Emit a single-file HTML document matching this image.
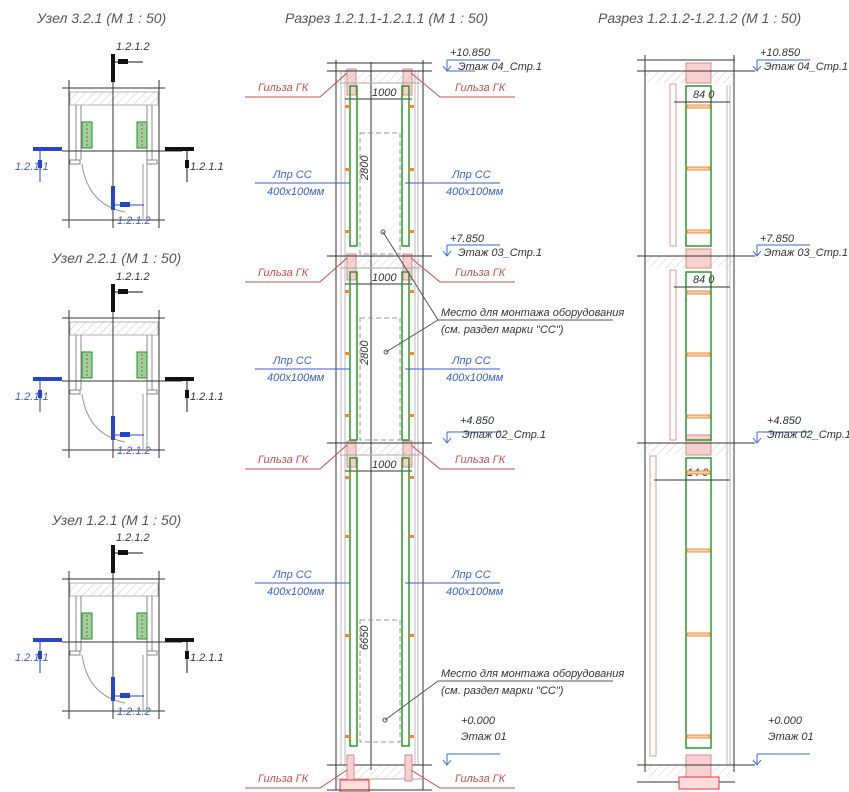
<!DOCTYPE html>
<html><head><meta charset="utf-8"><style>
html,body{margin:0;padding:0;background:#fff;}
svg{display:block;font-family:"Liberation Sans","DejaVu Sans",sans-serif;}
.t{font-style:italic;fill:#555;}
.r{fill:#c0504d;font-style:italic;font-size:11px;}
.b{fill:#3a5fc8;font-style:italic;font-size:11px;}
.k{fill:#333;font-style:italic;font-size:11px;}
</style></head><body>
<svg width="849" height="792" viewBox="0 0 849 792" xmlns="http://www.w3.org/2000/svg">
<defs>
<pattern id="h" width="6" height="6" patternUnits="userSpaceOnUse" patternTransform="rotate(45)"><line x1="0" y1="0" x2="0" y2="6" stroke="#ccc" stroke-width="1"/></pattern>
<g id="plan">
  <line x1="62" y1="88" x2="165" y2="88" stroke="#333"/>
  <line x1="69" y1="80" x2="69" y2="228" stroke="#333"/>
  <line x1="159" y1="80" x2="159" y2="228" stroke="#333"/>
  <rect x="70" y="92" width="88" height="13" fill="url(#h)" stroke="#999" stroke-width="0.7"/>
  <line x1="76" y1="105" x2="76" y2="160" stroke="#888"/><line x1="81" y1="105" x2="81" y2="160" stroke="#888"/>
  <line x1="147" y1="105" x2="147" y2="160" stroke="#888"/><line x1="152" y1="105" x2="152" y2="160" stroke="#888"/>
  <rect x="82" y="122" width="10" height="26" fill="#9bd29b" stroke="#2a8a2a"/>
  <rect x="137" y="122" width="10" height="26" fill="#9bd29b" stroke="#2a8a2a"/>
  <line x1="87" y1="124" x2="87" y2="146" stroke="#c44" stroke-dasharray="2 2"/>
  <line x1="142" y1="124" x2="142" y2="146" stroke="#c44" stroke-dasharray="2 2"/>
  <line x1="62" y1="151" x2="182" y2="151" stroke="#333"/>
  <line x1="62" y1="220" x2="165" y2="220" stroke="#333"/>
  <line x1="113" y1="80" x2="113" y2="228" stroke="#333"/>
  <rect x="70" y="160" width="10" height="4" fill="none" stroke="#888"/>
  <rect x="147" y="160" width="10" height="4" fill="none" stroke="#888"/>
  <path d="M82 164 Q88 205 125 212" fill="none" stroke="#999"/>
  <line x1="143" y1="164" x2="143" y2="220" stroke="#999"/><line x1="147" y1="164" x2="147" y2="220" stroke="#999"/>
  <rect x="111" y="54" width="4" height="28" fill="#111"/>
  <line x1="113" y1="62" x2="143" y2="62" stroke="#111"/><rect x="118" y="59" width="10" height="5" fill="#111"/>
  <text x="116" y="50" class="k" font-size="9">1.2.1.2</text>
  <rect x="33" y="147" width="29" height="4" fill="#2745c8"/>
  <line x1="40" y1="151" x2="40" y2="182" stroke="#2745c8"/><rect x="38" y="160" width="4" height="8" fill="#2745c8"/>
  <text x="15" y="170" class="b" font-size="9">1.2.1.1</text>
  <rect x="165" y="147" width="29" height="4" fill="#111"/>
  <line x1="187" y1="151" x2="187" y2="182" stroke="#111"/><rect x="185" y="160" width="4" height="8" fill="#111"/>
  <text x="190" y="170" class="k" font-size="9">1.2.1.1</text>
  <rect x="111" y="186" width="4" height="24" fill="#2745c8"/>
  <line x1="113" y1="205" x2="144" y2="205" stroke="#2745c8"/><rect x="120" y="202" width="10" height="5" fill="#2745c8"/>
  <text x="117" y="224" class="b" font-size="9">1.2.1.2</text>
</g>
<g id="fl">
  <rect x="347" y="-2" width="9" height="26" fill="#f7d0d0" stroke="#d88"/>
  <rect x="403" y="-2" width="9" height="26" fill="#f7d0d0" stroke="#d88"/>
  <rect x="340" y="0" width="80" height="12" fill="url(#h)"/>
  <line x1="340" y1="12" x2="420" y2="12" stroke="#aaa"/>
  <line x1="327" y1="0" x2="432" y2="0" stroke="#333"/>
  <line x1="345" y1="28" x2="412" y2="28" stroke="#333"/>
  <text x="372" y="25" class="k" font-size="9">1000</text>
</g>
<g id="lab">
  <path d="M245 26 L320 26 L347 2" fill="none" stroke="#c0504d"/>
  <text x="258" y="20" class="r">Гильза ГК</text>
  <path d="M515 26 L440 26 L411 2" fill="none" stroke="#c0504d"/>
  <text x="455" y="20" class="r">Гильза ГК</text>
</g>
<g id="lpr">
  <line x1="255" y1="0" x2="350" y2="0" stroke="#3a5fc8"/>
  <text x="273" y="-5" class="b">Лпр СС</text><text x="267" y="12" class="b" font-size="9">400x100мм</text>
  <line x1="405" y1="0" x2="500" y2="0" stroke="#3a5fc8"/>
  <text x="452" y="-5" class="b">Лпр СС</text><text x="446" y="12" class="b" font-size="9">400x100мм</text>
</g>
</defs>

<text x="37" y="23" class="t" font-size="14">Узел 3.2.1 (М 1 : 50)</text>
<text x="52" y="263" class="t" font-size="14">Узел 2.2.1 (М 1 : 50)</text>
<text x="52" y="525" class="t" font-size="14">Узел 1.2.1 (М 1 : 50)</text>
<text x="285" y="23" class="t" font-size="14">Разрез 1.2.1.1-1.2.1.1 (М 1 : 50)</text>
<text x="598" y="23" class="t" font-size="14">Разрез 1.2.1.2-1.2.1.2 (М 1 : 50)</text>

<use href="#plan"/>
<use href="#plan" transform="translate(0,230)"/>
<use href="#plan" transform="translate(0,491)"/>

<!-- middle section -->
<g stroke-width="1">
<line x1="336" y1="60" x2="336" y2="790" stroke="#333"/>
<line x1="423" y1="60" x2="423" y2="790" stroke="#333"/>
<line x1="341" y1="71" x2="341" y2="765" stroke="#bbb"/>
<line x1="345" y1="71" x2="345" y2="765" stroke="#bbb"/>
<line x1="415" y1="71" x2="415" y2="765" stroke="#bbb"/>
<line x1="418" y1="71" x2="418" y2="765" stroke="#bbb"/>
<line x1="371" y1="62" x2="371" y2="770" stroke="#333"/>
<line x1="327" y1="63" x2="432" y2="63" stroke="#333"/>
</g>
<use href="#fl" transform="translate(0,71)"/>
<use href="#fl" transform="translate(0,256)"/>
<use href="#fl" transform="translate(0,443)"/>
<g fill="none" stroke="#2a9a2a" stroke-width="1.5">
<rect x="350" y="86" width="7" height="160"/><rect x="402" y="86" width="7" height="160"/>
<rect x="350" y="272" width="7" height="168"/><rect x="402" y="272" width="7" height="168"/>
<rect x="350" y="458" width="7" height="288"/><rect x="402" y="458" width="7" height="288"/>
</g>
<g fill="none" stroke="#999" stroke-dasharray="5 3">
<rect x="360" y="133" width="40" height="121"/>
<rect x="360" y="318" width="40" height="122"/>
<rect x="360" y="620" width="40" height="122"/>
</g>
<g fill="#f08a3a">
<rect x="345" y="105" width="5" height="3"/><rect x="409" y="105" width="5" height="3"/>
<rect x="345" y="168" width="5" height="3"/><rect x="409" y="168" width="5" height="3"/>
<rect x="345" y="230" width="5" height="3"/><rect x="409" y="230" width="5" height="3"/>
<rect x="345" y="290" width="5" height="3"/><rect x="409" y="290" width="5" height="3"/>
<rect x="345" y="352" width="5" height="3"/><rect x="409" y="352" width="5" height="3"/>
<rect x="345" y="414" width="5" height="3"/><rect x="409" y="414" width="5" height="3"/>
<rect x="345" y="476" width="5" height="3"/><rect x="409" y="476" width="5" height="3"/>
<rect x="345" y="535" width="5" height="3"/><rect x="409" y="535" width="5" height="3"/>
<rect x="345" y="634" width="5" height="3"/><rect x="409" y="634" width="5" height="3"/>
<rect x="345" y="735" width="5" height="3"/><rect x="409" y="735" width="5" height="3"/>
</g>
<text x="0" y="0" class="k" font-size="9" transform="translate(368,180) rotate(-90)">2800</text>
<text x="0" y="0" class="k" font-size="9" transform="translate(368,365) rotate(-90)">2800</text>
<text x="0" y="0" class="k" font-size="9" transform="translate(368,650) rotate(-90)">6650</text>
<!-- bottom middle -->
<rect x="340" y="765" width="80" height="14" fill="url(#h)"/>
<line x1="327" y1="765" x2="432" y2="765" stroke="#333"/>
<line x1="336" y1="779" x2="423" y2="779" stroke="#aaa"/>
<rect x="347" y="755" width="7" height="26" fill="#f7d0d0" stroke="#d88"/>
<rect x="405" y="755" width="7" height="26" fill="#f7d0d0" stroke="#d88"/>
<rect x="340" y="780" width="29" height="12" fill="#fdd" stroke="#e33"/>
<line x1="327" y1="790" x2="432" y2="790" stroke="#333"/>

<use href="#lab" transform="translate(0,71)"/>
<use href="#lab" transform="translate(0,256)"/>
<use href="#lab" transform="translate(0,443)"/>
<g>
<path d="M245 788 L320 788 L347 770" fill="none" stroke="#c0504d"/>
<text x="258" y="782" class="r">Гильза ГК</text>
<path d="M515 788 L440 788 L411 770" fill="none" stroke="#c0504d"/>
<text x="455" y="782" class="r">Гильза ГК</text>
</g>
<use href="#lpr" transform="translate(0,183)"/>
<use href="#lpr" transform="translate(0,369)"/>
<use href="#lpr" transform="translate(0,583)"/>

<!-- callouts -->
<line x1="438" y1="320" x2="613" y2="320" stroke="#555"/>
<line x1="438" y1="320" x2="383" y2="232" stroke="#555"/>
<line x1="438" y1="320" x2="386" y2="352" stroke="#555"/>
<circle cx="383" cy="232" r="2" fill="none" stroke="#555"/><circle cx="386" cy="352" r="2" fill="none" stroke="#555"/>
<text x="441" y="316" class="k" font-size="10">Место для монтажа оборудования</text>
<text x="441" y="333" class="k" font-size="10">(см. раздел марки "СС")</text>
<line x1="438" y1="681" x2="613" y2="681" stroke="#555"/>
<line x1="438" y1="681" x2="385" y2="720" stroke="#555"/>
<circle cx="385" cy="720" r="2" fill="none" stroke="#555"/>
<text x="441" y="677" class="k" font-size="10">Место для монтажа оборудования</text>
<text x="441" y="694" class="k" font-size="10">(см. раздел марки "СС")</text>

<!-- right section -->
<line x1="645" y1="55" x2="645" y2="772" stroke="#333"/>
<line x1="734" y1="55" x2="734" y2="772" stroke="#333"/>
<line x1="727" y1="85" x2="727" y2="765" stroke="#bbb"/>
<line x1="730" y1="85" x2="730" y2="765" stroke="#bbb"/>
<line x1="637" y1="60" x2="735" y2="60" stroke="#333"/>
<g>
<rect x="646" y="71" width="88" height="12" fill="url(#h)"/><rect x="646" y="256" width="88" height="12" fill="url(#h)"/>
<rect x="646" y="443" width="88" height="12" fill="url(#h)"/><rect x="646" y="765" width="88" height="12" fill="url(#h)"/>
<rect x="686" y="63" width="25" height="20" fill="#f7d0d0" stroke="#d88"/>
<rect x="686" y="249" width="25" height="19" fill="#f7d0d0" stroke="#d88"/>
<rect x="686" y="435" width="25" height="20" fill="#f7d0d0" stroke="#d88"/>
<rect x="686" y="755" width="25" height="22" fill="#f7d0d0" stroke="#d88"/>
<rect x="670" y="84" width="6" height="162" fill="none" stroke="#d99"/>
<rect x="670" y="270" width="6" height="170" fill="none" stroke="#d99"/>
<rect x="650" y="456" width="6" height="300" fill="none" stroke="#d99"/>
<line x1="637" y1="71" x2="755" y2="71" stroke="#333"/><line x1="637" y1="256" x2="755" y2="256" stroke="#333"/>
<line x1="637" y1="443" x2="755" y2="443" stroke="#333"/><line x1="637" y1="765" x2="755" y2="765" stroke="#333"/>
<line x1="637" y1="782" x2="735" y2="782" stroke="#333"/>
<rect x="679" y="777" width="40" height="12" fill="#fdd" stroke="#e33"/>
</g>
<g fill="none" stroke="#2a9a2a" stroke-width="1.5">
<rect x="686" y="86" width="25" height="160"/><rect x="686" y="272" width="25" height="168"/><rect x="686" y="458" width="25" height="290"/>
</g>
<g stroke="#333"><line x1="674" y1="102" x2="730" y2="102"/><line x1="674" y1="287" x2="730" y2="287"/><line x1="654" y1="480" x2="730" y2="480"/></g>
<text x="693" y="98" class="k" font-size="8">84 0</text><text x="693" y="283" class="k" font-size="8">84 0</text><text x="687" y="476" class="k" font-size="8">14 0</text>
<g fill="#fbd3b5" stroke="#f08a3a">
<rect x="687" y="105" width="23" height="3"/><rect x="687" y="167" width="23" height="3"/><rect x="687" y="230" width="23" height="3"/>
<rect x="687" y="291" width="23" height="3"/><rect x="687" y="353" width="23" height="3"/><rect x="687" y="415" width="23" height="3"/>
<rect x="687" y="471" width="23" height="3"/><rect x="687" y="549" width="23" height="3"/><rect x="687" y="633" width="23" height="3"/><rect x="687" y="735" width="23" height="3"/>
</g>

<!-- elevations -->
<g id="el">
<g fill="none" stroke="#3a6ad8">
<path d="M447 60 L500 60 M447 60 L447 71 M443 66 L447 71 L451 66 M447 71 L475 71"/>
<path d="M757 60 L810 60 M757 60 L757 71 M753 66 L757 71 L761 66"/>
<path d="M447 245 L500 245 M447 245 L447 256 M443 251 L447 256 L451 251"/>
<path d="M757 245 L810 245 M757 245 L757 256 M753 251 L757 256 L761 251"/>
<path d="M447 432 L500 432 M447 432 L447 443 M443 438 L447 443 L451 438"/>
<path d="M757 432 L810 432 M757 432 L757 443 M753 438 L757 443 L761 438"/>
<path d="M447 754 L500 754 M447 754 L447 765 M443 760 L447 765 L451 760"/>
<path d="M757 754 L810 754 M757 754 L757 765 M753 760 L757 765 L761 760"/>
</g>
<g class="k" font-size="10">
<text x="450" y="56">+10.850</text><text x="458" y="70">Этаж 04_Стр.1</text>
<text x="760" y="56">+10.850</text><text x="764" y="70">Этаж 04_Стр.1</text>
<text x="450" y="242">+7.850</text><text x="458" y="256">Этаж 03_Стр.1</text>
<text x="760" y="242">+7.850</text><text x="764" y="256">Этаж 03_Стр.1</text>
<text x="460" y="424">+4.850</text><text x="462" y="438">Этаж 02_Стр.1</text>
<text x="767" y="424">+4.850</text><text x="767" y="438">Этаж 02_Стр.1</text>
<text x="461" y="724">+0.000</text><text x="461" y="740">Этаж 01</text>
<text x="768" y="724">+0.000</text><text x="768" y="740">Этаж 01</text>
</g>
</g>
</svg>
</body></html>
